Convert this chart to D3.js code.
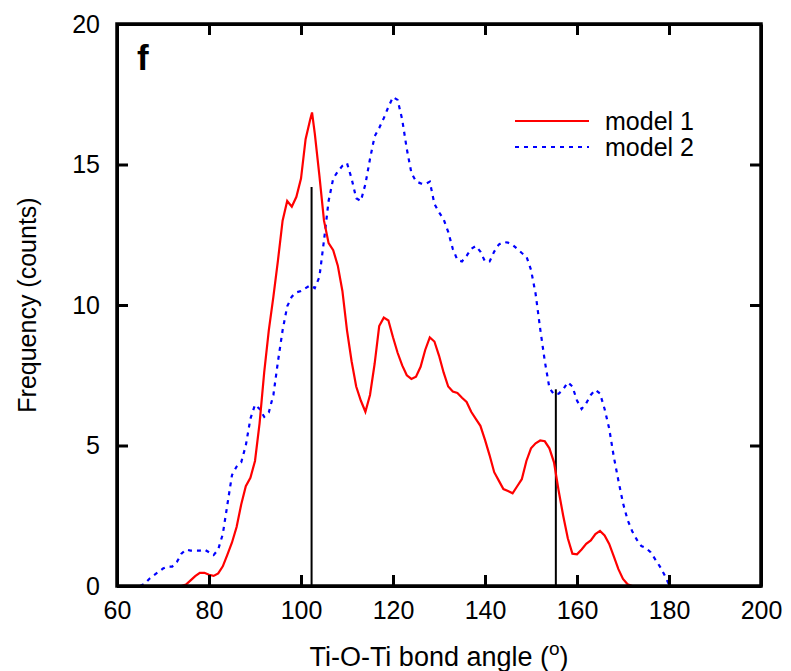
<!DOCTYPE html>
<html>
<head>
<meta charset="utf-8">
<script src="https://cdnjs.cloudflare.com/ajax/libs/d3/7.8.5/d3.min.js"></script>
<style>
  body { margin: 0; background: #fff; }
  svg text { font-family: "Liberation Sans", Arial, Helvetica, sans-serif; fill: #000; }
  .axis text { font-size: 25px; }
  .axis line, .axis path { stroke: #000; stroke-width: 3; }
</style>
</head>
<body>
<script>
// model 1 (red, solid) : angle -> counts
var angles1 = [74, 75, 76, 77, 78, 79, 80, 81, 82, 83, 84, 85, 86, 87, 88, 89, 90, 91, 92, 93,
  94, 95, 96, 97, 98, 99, 100, 101, 102, 102.4, 103, 104, 105, 106, 107, 108, 109, 110, 111, 112,
  113, 114, 115, 116, 117, 118, 119, 120, 121, 122, 123, 124, 125, 126, 127, 128, 129, 130, 131, 132,
  133, 134, 135, 136, 137, 138, 139, 140, 141, 142, 143, 144, 145, 146, 147, 148, 149, 150, 151, 152,
  153, 154, 155, 156, 157, 158, 159, 160, 161, 162, 163, 164, 165, 166, 167, 168, 169, 170, 171, 172];
var counts1 = [0, 0.05, 0.2, 0.35, 0.47, 0.47, 0.4, 0.36, 0.45, 0.7, 1.12, 1.55, 2.1, 2.9, 3.55, 3.85, 4.45, 5.8, 7.6, 9.1,
  10.3, 11.6, 13.0, 13.7, 13.5, 13.85, 14.5, 15.9, 16.6, 16.85, 16.1, 14.6, 13.0, 12.2, 11.95, 11.4, 10.5, 9.1, 8.0, 7.1,
  6.6, 6.2, 6.8, 7.9, 9.25, 9.55, 9.45, 8.85, 8.3, 7.85, 7.5, 7.37, 7.45, 7.8, 8.4, 8.85, 8.7, 8.2, 7.6, 7.1,
  6.92, 6.87, 6.7, 6.55, 6.2, 5.95, 5.7, 5.2, 4.65, 4.05, 3.75, 3.45, 3.38, 3.3, 3.55, 3.8, 4.45, 4.9, 5.08, 5.18,
  5.15, 4.9, 4.4, 3.4, 2.5, 1.7, 1.15, 1.13, 1.3, 1.5, 1.62, 1.85, 1.96, 1.8, 1.5, 1.05, 0.6, 0.25, 0.06, 0];

// model 2 (blue, dashed)
var angles2 = [65, 66, 67, 68, 69, 70, 71, 72, 73, 74, 75, 76, 77, 78, 79, 80, 81, 82, 83, 84,
  85, 86, 87, 88, 89, 90, 91, 92, 93, 94, 95, 96, 97, 98, 99, 100, 101, 102, 103, 104,
  105, 106, 107, 108, 109, 110, 111, 112, 113, 114, 115, 116, 117, 118, 119, 120, 121, 122, 123, 124,
  125, 126, 127, 128, 129, 130, 131, 132, 133, 134, 135, 136, 137, 138, 139, 140, 141, 142, 143, 144,
  145, 146, 147, 148, 149, 150, 151, 152, 153, 154, 155, 156, 157, 158, 159, 160, 161, 162, 163, 164,
  165, 166, 167, 168, 169, 170, 171, 172, 173, 174, 175, 176, 177, 178, 179, 180];
var counts2 = [0, 0.08, 0.25, 0.38, 0.5, 0.62, 0.69, 0.69, 0.85, 1.15, 1.3, 1.26, 1.26, 1.26, 1.3, 1.2, 1.1, 1.3, 1.85, 2.9,
  3.95, 4.25, 4.4, 5.0, 5.95, 6.45, 6.3, 6.02, 6.18, 6.8, 8.0, 9.1, 9.95, 10.3, 10.45, 10.5, 10.6, 10.7, 10.6, 11.0,
  12.3, 13.7, 14.5, 14.75, 14.95, 15.05, 14.5, 13.8, 13.7, 14.3, 15.2, 16.0, 16.3, 16.65, 17.05, 17.4, 17.3, 16.6, 15.55, 14.7,
  14.4, 14.33, 14.3, 14.39, 13.6, 13.3, 13.05, 12.6, 12.0, 11.6, 11.55, 11.75, 12.0, 12.1, 11.9, 11.55, 11.55, 11.9, 12.15, 12.24,
  12.22, 12.14, 12.0, 11.85, 11.73, 11.25, 10.4, 9.15, 8.0, 7.05, 6.82, 6.84, 7.0, 7.25, 7.1, 6.6, 6.3, 6.5, 6.8, 6.98,
  6.85, 6.3, 5.6, 4.6, 3.75, 2.95, 2.35, 1.95, 1.65, 1.42, 1.35, 1.2, 0.95, 0.7, 0.4, 0.05];

// vertical reference lines
var markerAngles = [102.3, 155.4];
var markerHeights = [14.2, 7.0];

var seriesNames = ["model 1", "model 2"];
var xTicks = [60, 80, 100, 120, 140, 160, 180, 200];
var yTicks = [0, 5, 10, 15, 20];

var totalWidth = 791, totalHeight = 671;
var margin = {left: 117, right: 30, top: 24, bottom: 85};
var width = totalWidth - margin.left - margin.right;
var height = totalHeight - margin.top - margin.bottom;

var svg = d3.select("body").append("svg")
  .attr("width", totalWidth)
  .attr("height", totalHeight);

var g = svg.append("g")
  .attr("transform", "translate(" + margin.left + "," + margin.top + ")");

var xScale = d3.scaleLinear().domain([60, 200]).range([0, width]);
var yScale = d3.scaleLinear().domain([0, 20]).range([height, 0]);

// clip so lines stay inside frame
g.append("clipPath").attr("id", "plot")
  .append("rect").attr("width", width).attr("height", height);

var plot = g.append("g").attr("clip-path", "url(#plot)");

// marker lines
plot.selectAll(".marker")
  .data(markerAngles)
  .enter()
  .append("line")
  .attr("class", "marker")
  .attr("x1", function(d) { return xScale(d); })
  .attr("x2", function(d) { return xScale(d); })
  .attr("y1", yScale(0))
  .attr("y2", function(d, i) { return yScale(markerHeights[i]); })
  .attr("stroke", "#000")
  .attr("stroke-width", 2);

var line = d3.line()
  .x(function(d) { return xScale(d[0]); })
  .y(function(d) { return yScale(d[1]); });

var data1 = angles1.map(function(a, i) { return [a, counts1[i]]; });
var data2 = angles2.map(function(a, i) { return [a, counts2[i]]; });

plot.append("path")
  .datum(data2)
  .attr("d", line)
  .attr("fill", "none")
  .attr("stroke", "#0000ff")
  .attr("stroke-width", 2.2)
  .attr("stroke-dasharray", "4,5");

plot.append("path")
  .datum(data1)
  .attr("d", line)
  .attr("fill", "none")
  .attr("stroke", "#ff0000")
  .attr("stroke-width", 2.2);

// axes, ticks pointing inward
var tick = 11;
g.append("g").attr("class", "axis")
  .attr("transform", "translate(0," + height + ")")
  .call(d3.axisBottom(xScale).tickValues(xTicks).tickSizeInner(-tick).tickSizeOuter(0).tickPadding(15));
g.append("g").attr("class", "axis")
  .call(d3.axisTop(xScale).tickValues(xTicks).tickSizeInner(-tick).tickSizeOuter(0).tickFormat(""));
g.append("g").attr("class", "axis")
  .call(d3.axisLeft(yScale).tickValues(yTicks).tickSizeInner(-tick).tickSizeOuter(0).tickPadding(17));
g.append("g").attr("class", "axis")
  .attr("transform", "translate(" + width + ",0)")
  .call(d3.axisRight(yScale).tickValues(yTicks).tickSizeInner(-tick).tickSizeOuter(0).tickFormat(""));

g.selectAll(".axis .tick").filter(function(d) {
  return d === 60 || d === 200;
}).select("line").remove();

g.append("rect")
  .attr("width", width).attr("height", height)
  .attr("fill", "none").attr("stroke", "#000").attr("stroke-width", 3.5);

// panel letter
g.append("text")
  .attr("x", 20).attr("y", 46)
  .style("font-size", "35px").style("font-weight", "bold")
  .text("f");

// legend
var legend = g.selectAll(".legend")
  .data(seriesNames)
  .enter()
  .append("g")
  .attr("class", "legend")
  .attr("transform", function(d, i) { return "translate(0," + (97 + i * 26) + ")"; });

legend.append("line")
  .attr("x1", 398).attr("x2", 472)
  .attr("stroke", function(d, i) { return i === 0 ? "#ff0000" : "#0000ff"; })
  .attr("stroke-width", 2.2)
  .attr("stroke-dasharray", function(d, i) { return i === 0 ? null : "4,5"; });

legend.append("text")
  .attr("x", 488).attr("dy", "0.36em")
  .style("font-size", "25px")
  .text(function(d) { return d; });

// axis labels
var xl = svg.append("text")
  .attr("x", margin.left + width / 2).attr("y", 666)
  .style("text-anchor", "middle")
  .style("font-size", "27px");
xl.append("tspan").text("Ti-O-Ti bond angle (");
xl.append("tspan").attr("dy", "-11").style("font-size", "19px").text("o");
xl.append("tspan").attr("dy", "11").text(")");

svg.append("text")
  .attr("transform", "translate(36," + (margin.top + height / 2) + ") rotate(-90)")
  .style("text-anchor", "middle")
  .style("font-size", "25px")
  .text("Frequency (counts)");
</script>
</body>
</html>
